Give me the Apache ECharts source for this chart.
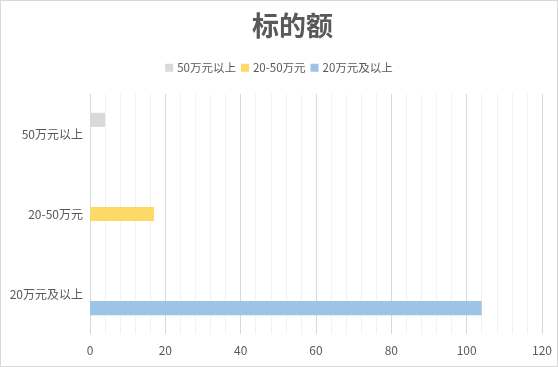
<!DOCTYPE html>
<html><head><meta charset="utf-8">
<script src="https://cdn.jsdelivr.net/npm/echarts@6/dist/echarts.min.js"></script>
<style>html,body{margin:0;padding:0;background:#fff}#c{width:556px;height:365px;border:1px solid #d9d9d9}</style>
</head><body><div id="c"></div>
<script>
const title = '标的额';
const categories = ['20万元及以上', '20-50万元', '50万元以上'];
const seriesNames = ['50万元以上', '20-50万元', '20万元及以上'];
const values50 = [null, null, 4];
const values2050 = [null, 17, null];
const values20 = [104, null, null];
const xTicks = [0, 120, 20];
const colors = ['#d9d9d9', '#ffd966', '#9dc3e6'];
const font = '"Noto Sans CJK SC", "Microsoft YaHei", sans-serif';
const chart = echarts.init(document.getElementById('c'));
chart.setOption({
  animation: false,
  textStyle: {fontFamily: font},
  title: {text: title, left: 246, top: 6, textStyle: {fontSize: 27, fontWeight: 'bold', color: '#595959', fontFamily: font}},
  legend: {data: seriesNames, top: 56, left: 'center', itemWidth: 8, itemHeight: 8, itemGap: 5, icon: 'rect',
    textStyle: {fontSize: 11.5, color: '#595959', fontFamily: font, padding: [0, 0, 0, -1]}},
  grid: {left: 89, right: 15, top: 93, bottom: 32, containLabel: false},
  xAxis: {type: 'value', min: xTicks[0], max: xTicks[1], interval: xTicks[2],
    axisLine: {show: false}, axisTick: {show: false},
    axisLabel: {color: '#595959', fontSize: 12, margin: 10, fontFamily: font},
    splitLine: {lineStyle: {color: '#d9d9d9'}},
    minorTick: {show: false, splitNumber: 5},
    minorSplitLine: {show: true, lineStyle: {color: '#f2f2f2'}}},
  yAxis: {type: 'category', data: categories,
    axisLine: {show: true, lineStyle: {color: '#d9d9d9'}}, axisTick: {show: false},
    axisLabel: {color: '#595959', fontSize: 12, margin: 7, fontFamily: font}},
  series: [
    {name: seriesNames[0], type: 'bar', data: values50, itemStyle: {color: colors[0]}, barGap: '0%', barCategoryGap: '47%'},
    {name: seriesNames[1], type: 'bar', data: values2050, itemStyle: {color: colors[1]}},
    {name: seriesNames[2], type: 'bar', data: values20, itemStyle: {color: colors[2]}}
  ]
});
</script></body></html>
